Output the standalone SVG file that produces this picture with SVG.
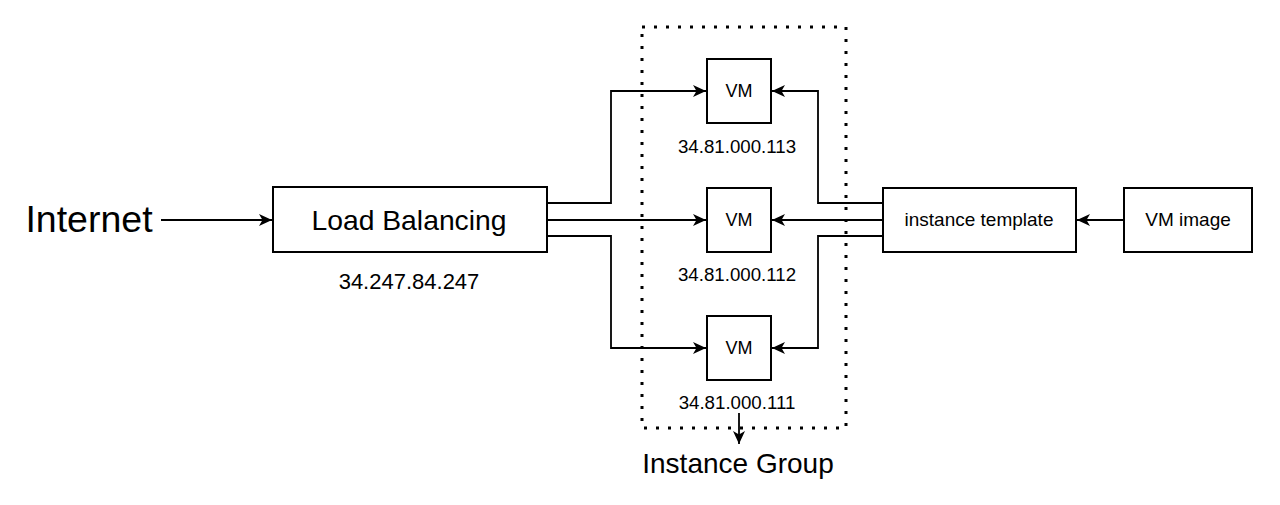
<svg xmlns="http://www.w3.org/2000/svg" width="1280" height="505" viewBox="0 0 1280 505">
  <style>
    .box { fill: #ffffff; stroke: #000000; stroke-width: 2; }
    .t { font-family: "Liberation Sans", Arial, Helvetica, sans-serif; fill: #000000; text-anchor: middle; }
    .conn { fill: none; stroke: #000000; stroke-width: 1.8; }
    .group { fill: none; stroke: #000000; stroke-width: 3; stroke-dasharray: 3 9; }
  </style>
  <defs>
    <marker id="arrow" markerUnits="userSpaceOnUse" markerWidth="16" markerHeight="16" viewBox="0 0 16 16" refX="15" refY="8" orient="auto">
      <path d="M2,2 L15,8 L2,14 L5.5,8 Z" fill="#000000"/>
    </marker>
  </defs>
  <rect width="1280" height="505" fill="#ffffff"/>

  <g id="instance-group">
    <rect class="group" x="642" y="27" width="204" height="401"/>
    <text class="t" x="738" y="473" font-size="28">Instance Group</text>
  </g>

  <g id="connectors">
    <path class="conn" d="M161,220 H272" stroke-width="1.4" marker-end="url(#arrow)"/>
    <path class="conn" d="M547,203 H611 V91 H706" marker-end="url(#arrow)"/>
    <path class="conn" d="M547,220 H706" marker-end="url(#arrow)"/>
    <path class="conn" d="M547,236 H611 V348 H706" marker-end="url(#arrow)"/>
    <path class="conn" d="M883,203 H818 V91 H772" marker-end="url(#arrow)"/>
    <path class="conn" d="M883,220 H772" marker-end="url(#arrow)"/>
    <path class="conn" d="M883,236 H818 V348 H772" marker-end="url(#arrow)"/>
    <path class="conn" d="M1124,220 H1077" marker-end="url(#arrow)"/>
    <path class="conn" d="M739,413 V444" stroke-width="1.4" marker-end="url(#arrow)"/>
  </g>

  <g id="internet">
    <text class="t" x="89" y="232" font-size="37.5">Internet</text>
  </g>

  <g id="load-balancing">
    <rect class="box" x="273" y="187" width="274" height="65"/>
    <text class="t" x="409" y="230" font-size="28.3">Load Balancing</text>
    <text class="t" x="409" y="289" font-size="22">34.247.84.247</text>
  </g>

  <g id="vm1">
    <rect class="box" x="707" y="59" width="64" height="64"/>
    <text class="t" x="739" y="97" font-size="18">VM</text>
    <text class="t" x="737" y="153" font-size="18.7">34.81.000.113</text>
  </g>

  <g id="vm2">
    <rect class="box" x="707" y="188" width="64" height="64"/>
    <text class="t" x="739" y="226" font-size="18">VM</text>
    <text class="t" x="737" y="281" font-size="18.7">34.81.000.112</text>
  </g>

  <g id="vm3">
    <rect class="box" x="707" y="316" width="64" height="64"/>
    <text class="t" x="739" y="354" font-size="18">VM</text>
    <text class="t" x="737" y="409" font-size="18.7">34.81.000.111</text>
  </g>

  <g id="instance-template">
    <rect class="box" x="883" y="188" width="193" height="64"/>
    <text class="t" x="979" y="226" font-size="19">instance template</text>
  </g>

  <g id="vm-image">
    <rect class="box" x="1124" y="188" width="128" height="64"/>
    <text class="t" x="1188" y="226" font-size="19">VM image</text>
  </g>
</svg>
